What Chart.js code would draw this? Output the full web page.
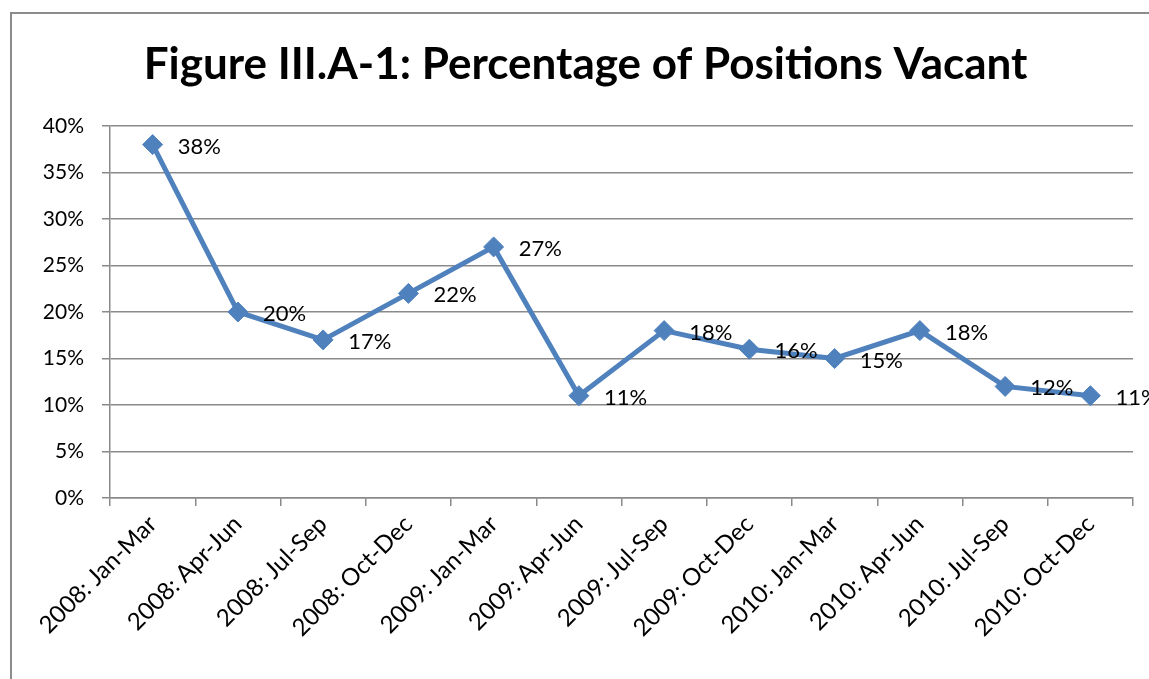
<!DOCTYPE html>
<html>
<head>
<meta charset="utf-8">
<script src="https://cdn.jsdelivr.net/npm/chart.js@4"></script>
<style>
  body { margin: 0; background: #fff; }
  #wrap { position: relative; width: 1149px; height: 679px; }
</style>
</head>
<body>
<div id="wrap"><canvas id="grafico"></canvas></div>
<script>
const categories = ['2008: Jan-Mar', '2008: Apr-Jun', '2008: Jul-Sep', '2008: Oct-Dec',
    '2009: Jan-Mar', '2009: Apr-Jun', '2009: Jul-Sep', '2009: Oct-Dec',
    '2010: Jan-Mar', '2010: Apr-Jun', '2010: Jul-Sep', '2010: Oct-Dec'];
const vacantPct = [38, 20, 17, 22, 27, 11, 18, 16, 15, 18, 12, 11];
const yTicks = [0, 5, 10, 15, 20, 25, 30, 35, 40];

const fontFam = 'Lato, "Open Sans", sans-serif';
const gridGray = '#8a8a8a';

// outer frame of the chart object (right and bottom fall outside the picture)
const framePlugin = {
    id: 'frame',
    beforeDraw(chart) {
        const c = chart.ctx;
        c.save();
        c.strokeStyle = '#8c8c8c';
        c.lineWidth = 2;
        c.strokeRect(11, 13, 2000, 2000);
        c.restore();
    }
};

// value labels to the right of each point
const pointLabels = {
    id: 'pointLabels',
    afterDatasetsDraw(chart) {
        const c = chart.ctx;
        const meta = chart.getDatasetMeta(0);
        c.save();
        c.font = '22px ' + fontFam;
        c.fillStyle = '#000';
        c.textBaseline = 'middle';
        c.textAlign = 'left';
        meta.data.forEach((pt, i) => {
            c.fillText(vacantPct[i] + '%', pt.x + 25, pt.y + 2);
        });
        c.restore();
    }
};

const ctx = document.getElementById('grafico').getContext('2d');
new Chart(ctx, {
    type: 'line',
    data: {
        labels: categories,
        datasets: [{
            data: vacantPct,
            borderColor: '#4f81bd',
            backgroundColor: '#4f81bd',
            borderWidth: 5,
            tension: 0,
            pointStyle: 'rectRot',
            pointRadius: 10,
            pointBackgroundColor: '#4f81bd',
            pointBorderColor: '#4f81bd',
            pointBorderWidth: 1
        }]
    },
    options: {
        responsive: true,
        maintainAspectRatio: false,
        animation: false,
        layout: { padding: { left: 38, right: 16, top: 0, bottom: 0 } },
        plugins: {
            legend: { display: false },
            tooltip: { enabled: false },
            title: {
                display: true,
                text: 'Figure III.A-1: Percentage of Positions Vacant',
                color: '#000',
                font: { family: fontFam, size: 44, weight: 'bold', lineHeight: 1.2 },
                padding: { top: 38, bottom: 35.2 }
            }
        },
        scales: {
            x: {
                offset: true,
                grid: { offset: true, drawOnChartArea: false, drawTicks: true, tickLength: 8, color: gridGray, lineWidth: 1.5 },
                border: { color: gridGray, width: 1.5 },
                ticks: {
                    color: '#000',
                    font: { family: fontFam, size: 24 },
                    minRotation: 45,
                    maxRotation: 45,
                    padding: 4
                },
                afterFit(scale) { scale.height = 181; }
            },
            y: {
                min: 0,
                max: 40,
                afterBuildTicks(scale) { scale.ticks = yTicks.map(v => ({ value: v })); },
                grid: { color: gridGray, lineWidth: 1.5, tickLength: 8 },
                border: { color: gridGray, width: 1.5 },
                ticks: {
                    color: '#000',
                    font: { family: fontFam, size: 21 },
                    padding: 18,
                    callback: v => v + '%'
                },
                afterFit(scale) { scale.width = 72; }
            }
        }
    },
    plugins: [framePlugin, pointLabels]
});
</script>
</body>
</html>
